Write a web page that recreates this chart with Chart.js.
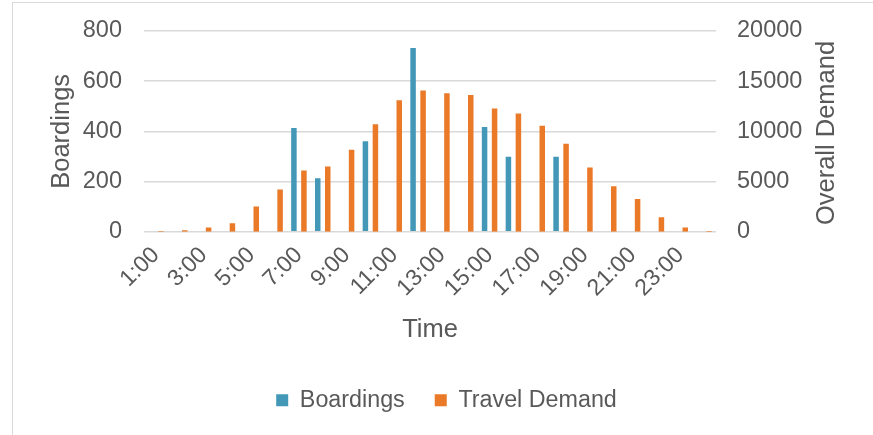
<!DOCTYPE html>
<html>
<head>
<meta charset="utf-8">
<script src="https://cdn.jsdelivr.net/npm/chart.js@4"></script>
<style>
  html, body { margin: 0; padding: 0; background: #ffffff; }
  #wrap { position: relative; width: 873px; height: 435px; overflow: hidden; }
  #frame { position: absolute; left: 12px; top: 2px; width: 900px; height: 500px;
           border-left: 1px solid #d9d9d9; border-top: 1px solid #d9d9d9; pointer-events: none; }
  canvas { position: absolute; left: 0; top: 0; }
</style>
</head>
<body>
<div id="wrap">
  <div id="frame"></div>
  <canvas id="c" width="873" height="435"></canvas>
</div>
<script>
const hours = ['1:00','2:00','3:00','4:00','5:00','6:00','7:00','8:00','9:00','10:00','11:00','12:00',
               '13:00','14:00','15:00','16:00','17:00','18:00','19:00','20:00','21:00','22:00','23:00','24:00'];
const boardings = [0,0,0,0,0,0,413,213,0,361,0,732,0,0,417,299,0,299,0,0,0,0,0,0];
const travelDemand = [60,150,430,830,2500,4200,6100,6500,8170,10700,13100,14070,
                      13800,13630,12270,11770,10570,8770,6400,4530,3270,1430,430,80];
const leftTicks = [0,200,400,600,800];
const rightTicks = [0,5000,10000,15000,20000];

const FONT = "'Liberation Sans', Arial, sans-serif";
const TXT = '#595959';
const BLUE = '#4398B8';
const ORANGE = '#EA7A28';

const rightTitle = {
  id: 'rightTitle',
  afterDraw(chart) {
    const ctx = chart.ctx;
    ctx.save();
    ctx.translate(827, 133);
    ctx.rotate(-Math.PI / 2);
    ctx.font = '25.5px ' + FONT;
    ctx.fillStyle = TXT;
    ctx.textAlign = 'center';
    ctx.textBaseline = 'middle';
    ctx.fillText('Overall Demand', 0, 0);
    ctx.restore();
  }
};

new Chart(document.getElementById('c'), {
  type: 'bar',
  data: {
    labels: hours,
    datasets: [
      { label: 'Boardings', data: boardings, backgroundColor: BLUE, yAxisID: 'y',
        categoryPercentage: 0.84, barPercentage: 0.55 },
      { label: 'Travel Demand', data: travelDemand, backgroundColor: ORANGE, yAxisID: 'y1',
        categoryPercentage: 0.84, barPercentage: 0.55 }
    ]
  },
  options: {
    responsive: false,
    animation: false,
    devicePixelRatio: 1,
    layout: { padding: { left: 20, right: 0, top: 31, bottom: 13 } },
    plugins: {
      tooltip: { enabled: false },
      legend: {
        position: 'bottom',
        labels: {
          boxWidth: 12, boxHeight: 12, padding: 30,
          color: TXT, font: { family: FONT, size: 23.3 }
        }
      }
    },
    scales: {
      x: {
        grid: { display: false, drawTicks: false },
        border: { display: false },
        ticks: {
          autoSkip: false, minRotation: 45, maxRotation: 45, padding: 10,
          color: TXT, font: { family: FONT, size: 23 },
          callback: function(v, i) { return i % 2 === 0 ? hours[i] : ''; }
        },
        title: { display: true, text: 'Time', color: TXT, font: { family: FONT, size: 25.5 },
                 padding: { top: 0, bottom: 13 } },
        afterFit(s) { s.height = 127; }
      },
      y: {
        position: 'left', min: 0, max: 800,
        afterBuildTicks(s) { s.ticks = leftTicks.map(v => ({ value: v })); },
        grid: { color: '#d9d9d9', lineWidth: 1.5, drawTicks: false },
        border: { display: false },
        ticks: { padding: 22, color: TXT, font: { family: FONT, size: 23.5 },
                 callback: v => String(v) },
        title: { display: true, text: 'Boardings', color: TXT, font: { family: FONT, size: 25.5 },
                 padding: { top: 27, bottom: 0 } },
        afterFit(s) { s.width = 124; s.paddingTop = 0; s.paddingBottom = 0; }
      },
      y1: {
        position: 'right', min: 0, max: 20000,
        afterBuildTicks(s) { s.ticks = rightTicks.map(v => ({ value: v })); },
        grid: { display: false, drawTicks: false },
        border: { display: false },
        ticks: { padding: 21, color: TXT, font: { family: FONT, size: 23.5 },
                 callback: v => String(v) },
        afterFit(s) { s.width = 157; s.paddingTop = 0; s.paddingBottom = 0; }
      }
    }
  },
  plugins: [rightTitle]
});
</script>
</body>
</html>
